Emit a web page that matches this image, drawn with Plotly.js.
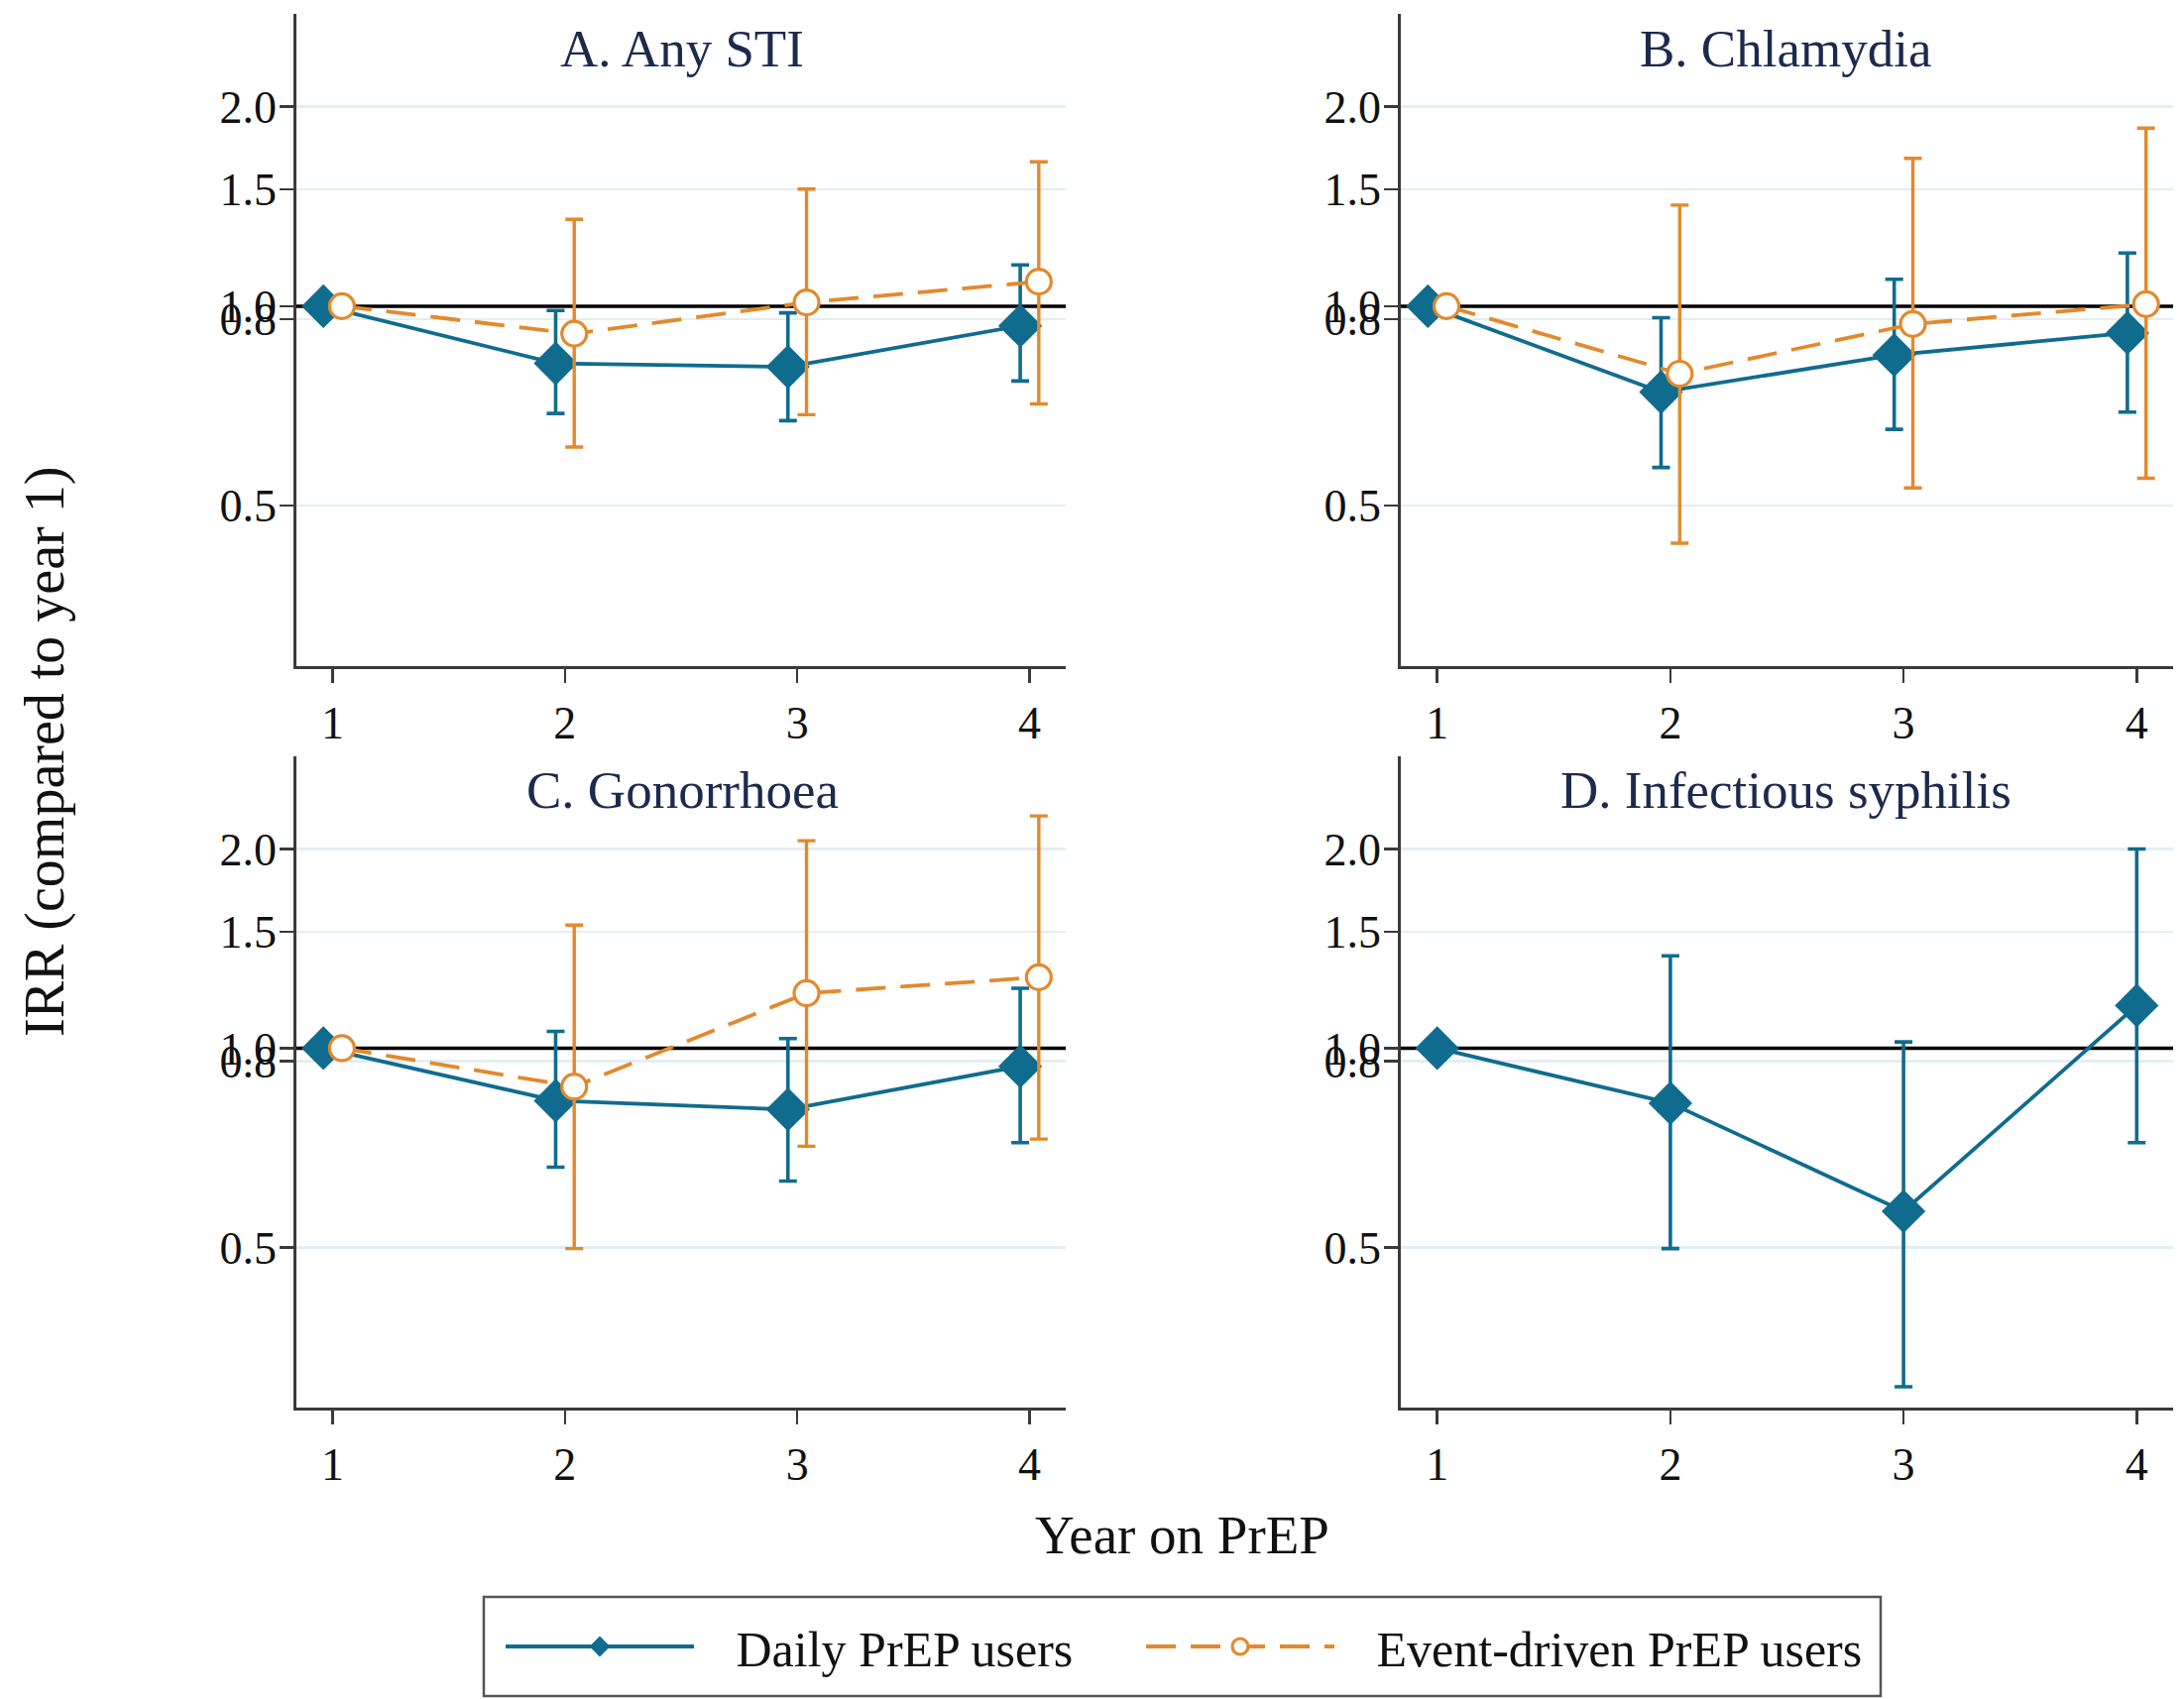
<!DOCTYPE html>
<html>
<head>
<meta charset="utf-8">
<script src="https://cdn.plot.ly/plotly-3.0.1.min.js"></script>
<style>html,body{margin:0;padding:0;background:#fff;}#chart{width:2203px;height:1714px;}</style>
</head>
<body>
<div id="chart"></div>
<script>
// ---- Data ----
const years = [1, 2, 3, 4];
const panelTitles = ["A. Any STI", "B. Chlamydia", "C. Gonorrhoea", "D. Infectious syphilis"];
const seriesNames = ["Daily PrEP users", "Event-driven PrEP users"];
const referenceIRR = 1;

const A_daily_est = [1, 0.820, 0.810, 0.934];
const A_daily_lo  = [1, 0.689, 0.672, 0.771];
const A_daily_hi  = [1, 0.985, 0.977, 1.154];
const A_event_est = [1, 0.909, 1.013, 1.089];
const A_event_lo  = [1, 0.613, 0.686, 0.712];
const A_event_hi  = [1, 1.352, 1.502, 1.651];

const B_daily_est = [1, 0.742, 0.844, 0.911];
const B_daily_lo  = [1, 0.571, 0.652, 0.692];
const B_daily_hi  = [1, 0.961, 1.098, 1.203];
const B_event_est = [1, 0.791, 0.940, 1.007];
const B_event_lo  = [1, 0.439, 0.532, 0.550];
const B_event_hi  = [1, 1.421, 1.671, 1.856];

const C_daily_est = [1, 0.833, 0.808, 0.939];
const C_daily_lo  = [1, 0.661, 0.630, 0.720];
const C_daily_hi  = [1, 1.060, 1.034, 1.232];
const C_event_est = [1, 0.875, 1.211, 1.280];
const C_event_lo  = [1, 0.498, 0.711, 0.729];
const C_event_hi  = [1, 1.535, 2.058, 2.244];

const D_daily_est = [1, 0.826, 0.567, 1.160];
const D_daily_lo  = [1, 0.498, 0.308, 0.720];
const D_daily_hi  = [1, 1.379, 1.022, 2.000];

const yTickVals = [0.5, 0.956, 1.0, 1.5, 2.0];
const yTickText = ["0.5", "0.8", "1.0", "1.5", "2.0"];
const xTickVals = [1, 2, 3, 4];
const xTickText = ["1", "2", "3", "4"];

// ---- Styling ----
const BLUE = "#106c8f";
const ORANGE = "#e3892c";
const FONT = "Liberation Serif, Times New Roman, serif";
const TITLE_COLOR = "#1c2a4e";
const X_RANGE = [0.844, 4.156];
const Y_RANGE_LOG = [-0.543, 0.441];
const PAD = "\u00a0\u00a0\u00a0";

function plus(est, hi) { return est.map((e, i) => (hi[i] === e ? null : hi[i] - e)); }
function minus(est, lo) { return est.map((e, i) => (lo[i] === e ? null : e - lo[i])); }

function refTrace(ax) {
  return {
    type: "scatter", mode: "lines", x: X_RANGE, y: [referenceIRR, referenceIRR],
    xaxis: "x" + ax, yaxis: "y" + ax, showlegend: false, hoverinfo: "skip",
    line: { color: "#000", width: 3.5 }
  };
}
function dailyTrace(est, lo, hi, ax, offset, showlegend) {
  return {
    type: "scatter", mode: "lines+markers", name: PAD + seriesNames[0],
    x: years.map(v => v + offset), y: est,
    xaxis: "x" + ax, yaxis: "y" + ax, showlegend: showlegend, legend: "legend",
    line: { color: BLUE, width: 3.8 },
    marker: { symbol: "diamond", size: 34, color: BLUE, line: { width: 0 } },
    error_y: { type: "data", symmetric: false, array: plus(est, hi), arrayminus: minus(est, lo),
               color: BLUE, thickness: 3.6, width: 9 }
  };
}
function eventTrace(est, lo, hi, ax, offset, showlegend) {
  return {
    type: "scatter", mode: "lines+markers", name: PAD + seriesNames[1],
    x: years.map(v => v + offset), y: est,
    xaxis: "x" + ax, yaxis: "y" + ax, showlegend: showlegend, legend: "legend2",
    line: { color: ORANGE, width: 3.8, dash: "30px,15px" },
    marker: { symbol: "circle", size: 25, color: "#ffffff", line: { color: ORANGE, width: 3.2 } },
    error_y: { type: "data", symmetric: false, array: plus(est, hi), arrayminus: minus(est, lo),
               color: ORANGE, thickness: 3.4, width: 9 }
  };
}

const off = 0.04;
const traces = [
  refTrace(""), refTrace("2"), refTrace("3"), refTrace("4"),
  dailyTrace(A_daily_est, A_daily_lo, A_daily_hi, "", -off, true),
  eventTrace(A_event_est, A_event_lo, A_event_hi, "", off, true),
  dailyTrace(B_daily_est, B_daily_lo, B_daily_hi, "2", -off, false),
  eventTrace(B_event_est, B_event_lo, B_event_hi, "2", off, false),
  dailyTrace(C_daily_est, C_daily_lo, C_daily_hi, "3", -off, false),
  eventTrace(C_event_est, C_event_lo, C_event_hi, "3", off, false),
  dailyTrace(D_daily_est, D_daily_lo, D_daily_hi, "4", 0, false)
];

const W = 2203, H = 1714;
const xDomL = [299 / W, 1075 / W], xDomR = [1413 / W, 2192 / W];
const yDomT = [1 - 672 / H, 1 - 14 / H], yDomB = [1 - 1420 / H, 1 - 763 / H];

function xax(domain, anchor) {
  return {
    domain: domain, anchor: anchor, range: X_RANGE,
    tickvals: xTickVals, ticktext: xTickText, ticks: "outside", ticklen: 14, tickwidth: 2.5,
    tickcolor: "#3a3a3a", showline: true, linecolor: "#3a3a3a", linewidth: 2.8,
    showgrid: false, zeroline: false, ticklabelstandoff: 1,
    tickfont: { family: FONT, size: 46, color: "#111" }, fixedrange: true
  };
}
function yax(domain, anchor) {
  return {
    domain: domain, anchor: anchor, type: "log", range: Y_RANGE_LOG,
    tickvals: yTickVals, ticktext: yTickText, ticks: "outside", ticklen: 14, tickwidth: 2.5,
    tickcolor: "#3a3a3a", showline: true, linecolor: "#3a3a3a", linewidth: 2.8,
    showgrid: true, gridcolor: "#e4eef2", gridwidth: 2.5, zeroline: false,
    ticklabelstandoff: -6,
    tickfont: { family: FONT, size: 46, color: "#111" }, fixedrange: true
  };
}

const titlePos = [
  [688 / W, 1 - 49 / H], [1801 / W, 1 - 49 / H],
  [688 / W, 1 - 797 / H], [1801 / W, 1 - 797 / H]
];
const annotations = panelTitles.map((t, i) => ({
  text: t, xref: "paper", yref: "paper", x: titlePos[i][0], y: titlePos[i][1],
  xanchor: "center", yanchor: "middle", showarrow: false,
  font: { family: FONT, size: 53, color: TITLE_COLOR }
}));
annotations.push({
  text: "Year on PrEP", xref: "paper", yref: "paper", x: 1192 / W, y: 1 - 1548 / H,
  xanchor: "center", yanchor: "middle", showarrow: false,
  font: { family: FONT, size: 55, color: "#111" }
});
annotations.push({
  text: "IRR (compared to year 1)", xref: "paper", yref: "paper", x: 45 / W, y: 1 - 759 / H,
  xanchor: "center", yanchor: "middle", showarrow: false, textangle: -90,
  font: { family: FONT, size: 56, color: "#111" }
});

const shapes = [{
  type: "rect", xref: "paper", yref: "paper",
  x0: 488 / W, x1: 1897 / W, y0: 1 - 1711 / H, y1: 1 - 1611 / H,
  line: { color: "#555", width: 2.5 }, fillcolor: "rgba(0,0,0,0)", layer: "below"
}];

const legendBase = {
  orientation: "h", xanchor: "left", y: 1 - 1661 / H, yanchor: "middle",
  bgcolor: "rgba(0,0,0,0)", borderwidth: 0, itemwidth: 190,
  font: { family: FONT, size: 50, color: "#111" }, itemsizing: "trace"
};

const layout = {
  width: W, height: H, margin: { l: 0, r: 0, t: 0, b: 0 },
  paper_bgcolor: "#ffffff", plot_bgcolor: "#ffffff",
  showlegend: true,
  legend: Object.assign({}, legendBase, { x: 505 / W }),
  legend2: Object.assign({}, legendBase, { x: 1151 / W }),
  xaxis: xax(xDomL, "y"), yaxis: yax(yDomT, "x"),
  xaxis2: xax(xDomR, "y2"), yaxis2: yax(yDomT, "x2"),
  xaxis3: xax(xDomL, "y3"), yaxis3: yax(yDomB, "x3"),
  xaxis4: xax(xDomR, "y4"), yaxis4: yax(yDomB, "x4"),
  annotations: annotations, shapes: shapes
};

Plotly.newPlot("chart", traces, layout, { displayModeBar: false, staticPlot: true });
</script>
</body>
</html>
